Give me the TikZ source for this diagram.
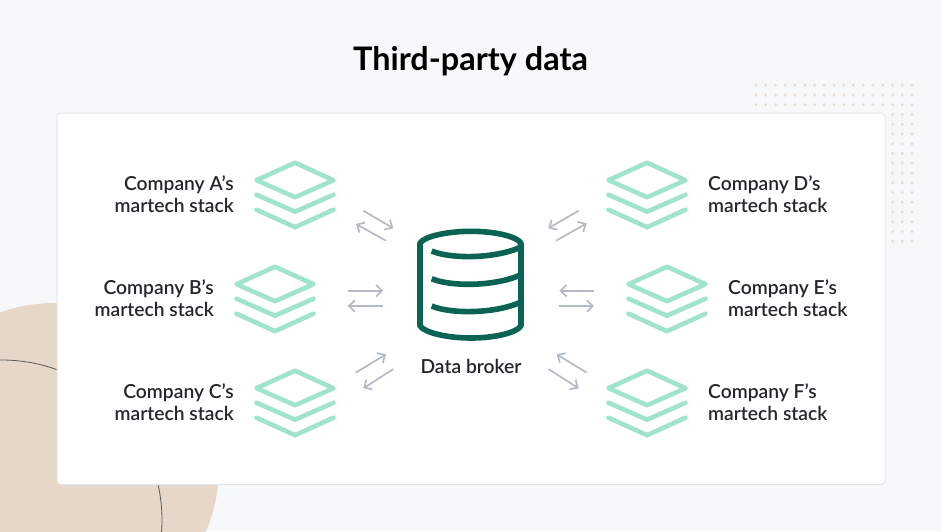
\documentclass[tikz,border=0pt]{standalone}
\usepackage{fontspec}
\setmainfont{Lato}
\newfontfamily\labelfont{Lato Semibold}
\usetikzlibrary{arrows.meta}
\definecolor{pagebg}{HTML}{F6F8FA}
\definecolor{cardedge}{HTML}{E4E6EA}
\definecolor{tanshape}{HTML}{E6D7C9}
\definecolor{tandot}{HTML}{E8DDD2}
\definecolor{stackmint}{HTML}{A0E3CF}
\definecolor{brokergreen}{HTML}{0B6453}
\definecolor{flowgrey}{HTML}{B4BAC6}
\definecolor{inktext}{HTML}{23262A}
\tikzset{
  stackline/.style={line width=4.6pt, color=stackmint, line cap=round, line join=round},
  brokerline/.style={line width=5.6pt, color=brokergreen},
  flowarrow/.style={line width=1.7pt, color=flowgrey, -{Straight Barb[length=6pt,width=11.5pt,line width=1.7pt]}},
  stacklabel/.style={font=\labelfont\fontsize{19.25}{22}\selectfont, text=inktext, inner sep=0pt}
}
\def\stackicon(#1,#2){
  \draw[stackline] (#1,#2) -- (#1+38.5,#2+17.5) -- (#1,#2+34.5) -- (#1-38.5,#2+17.5) -- cycle;
  \draw[stackline] (#1-38.5,#2+32) -- (#1,#2+49) -- (#1+38.5,#2+32);
  \draw[stackline] (#1-38.5,#2+47) -- (#1,#2+64.5) -- (#1+38.5,#2+47);
}
\def\brokerband(#1){
  \draw[brokerline] (431.7,#1) .. controls (450,#1+8) and (495,#1+8) .. (521,#1-4);
}
\begin{document}
\begin{tikzpicture}[x=1pt,y=-1pt]
	%%%%% BACKGROUND %%%%%
	\useasboundingbox (0,0) rectangle (942,531);
	\fill[pagebg] (0,0) rectangle (942,531);
	\begin{scope}
		\clip (0,0) rectangle (942,531);
		\fill[tanshape] (55,467) circle (164);
		\draw[line width=0.8pt, color=black!65] (2,520) circle (160);
	\end{scope}
	
	\foreach \i in {0,...,16}
		\foreach \j in {0,1,2}
			\fill[tandot] (756+9.75*\i,85.3+9.75*\j) circle (1.6);
	\foreach \i in {0,1,2}
		\foreach \j in {3,...,16}
			\fill[tandot] (892.5+9.75*\i,85.3+9.75*\j) circle (1.6);
	
	\draw[fill=white, draw=cardedge, line width=1pt, rounded corners=4pt] (57,113) rectangle (885,484.5);
	
	\node[font=\bfseries\fontsize{32.4}{36}\selectfont, text=black, inner sep=0pt] (title) at (470.5,61.5) {Third-party data};
	
	%%%%% STACKS %%%%%
	\stackicon(295,162.7)
	\stackicon(275,266.7)
	\stackicon(295,370.7)
	\stackicon(647,162.7)
	\stackicon(667,266.7)
	\stackicon(647,370.7)
	
	\node[stacklabel, anchor=east, align=right] (labelA) at (234,194) {Company A’s\\martech stack};
	\node[stacklabel, anchor=east, align=right] (labelB) at (214,298) {Company B’s\\martech stack};
	\node[stacklabel, anchor=east, align=right] (labelC) at (234,402) {Company C’s\\martech stack};
	\node[stacklabel, anchor=west, align=left] (labelD) at (708,194) {Company D’s\\martech stack};
	\node[stacklabel, anchor=west, align=left] (labelE) at (728,298) {Company E’s\\martech stack};
	\node[stacklabel, anchor=west, align=left] (labelF) at (708,402) {Company F’s\\martech stack};
	
	%%%%% BROKER %%%%%
	\draw[brokerline, line join=round] (420,326) -- (420,243) .. controls (425,236) and (448,231.3) .. (471,231.3) .. controls (494,231.3) and (516,236) .. (521,243) -- (521,326) .. controls (516,333) and (494,338) .. (471,338) .. controls (448,338) and (425,333) .. (420,326) -- cycle;
	\brokerband(251)
	\brokerband(278.7)
	\brokerband(306)
	\node[stacklabel] (broker) at (471,366.5) {Data broker};
	
	%%%%% ARROWS %%%%%
	\foreach \nm/\xa/\ya/\xb/\yb in {
		aa/363.3/210.7/393.3/228.3, ab/386/240.7/356/224,
		ba/347.7/290.7/383.3/290.7, bb/383.3/306/347.7/306,
		ca/355.7/372.7/386/354.3, cb/393.3/369/363.3/388.3,
		da/578.7/210.7/548.3/228.3, db/556/240.7/586.7/223.3,
		ea/594/290.7/559.3/290.7, eb/559.3/306/594/306,
		fa/586.7/372.7/556.7/354.3, fb/548.3/369/578.7/388.3}
	{
		\coordinate (\nm s) at (\xa,\ya);
		\coordinate (\nm e) at (\xb,\yb);
		\draw[flowarrow] (\nm s) -- (\nm e);
	}
\end{tikzpicture}
\end{document}
